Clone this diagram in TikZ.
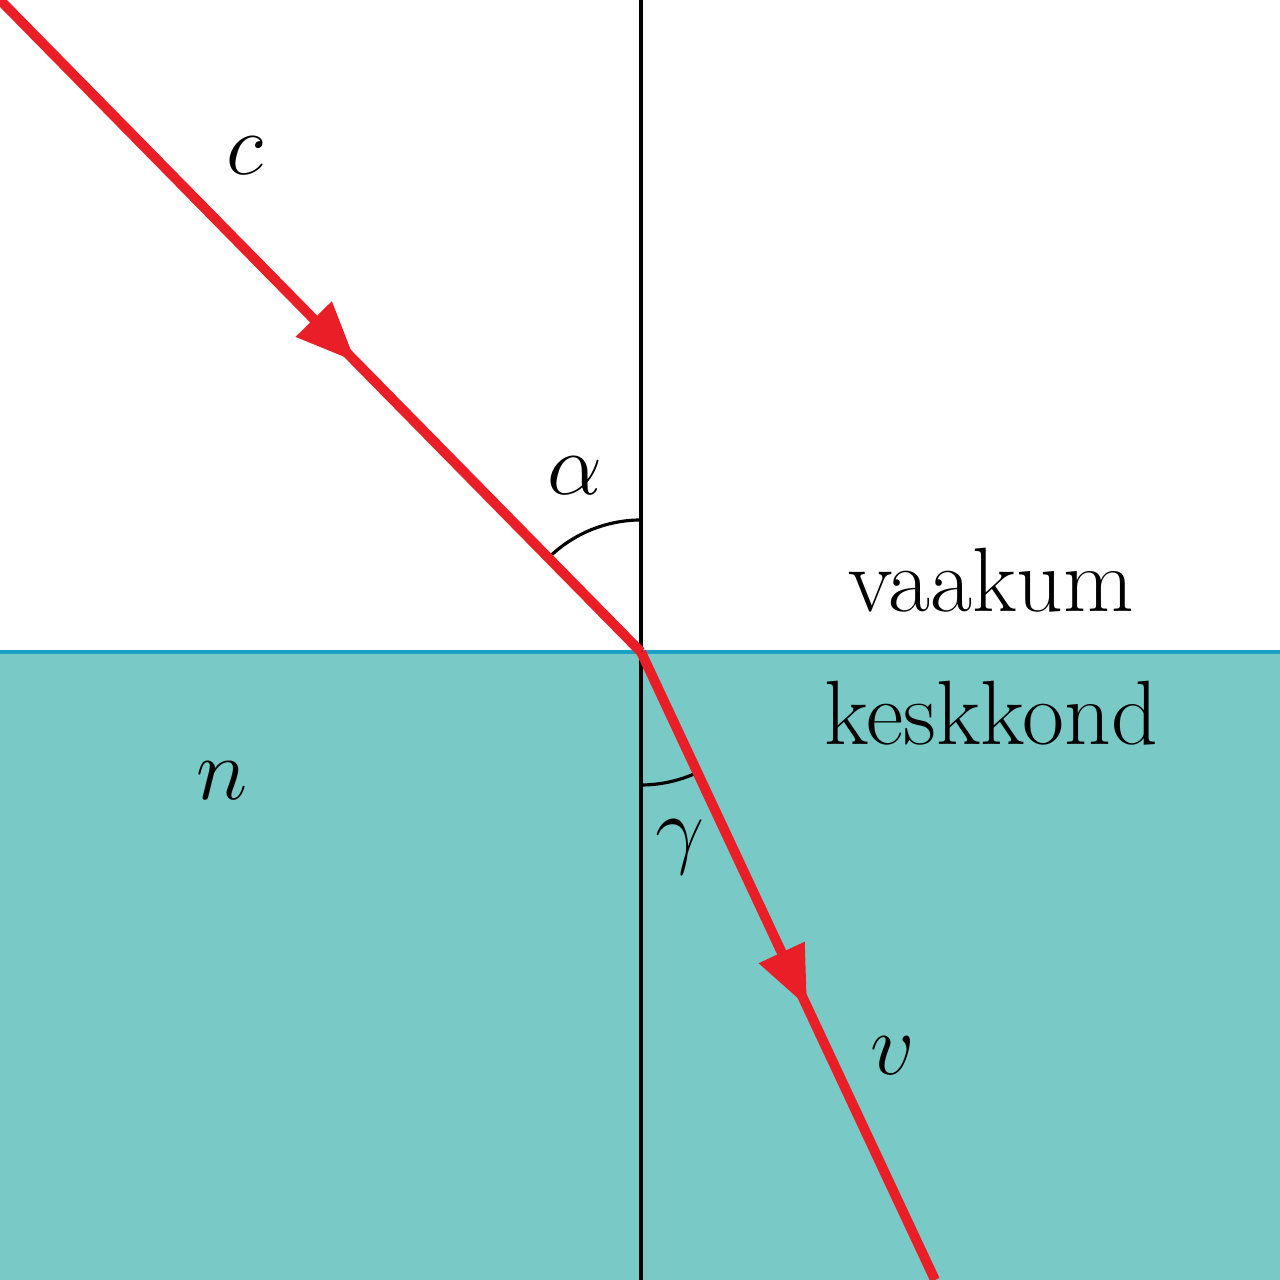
\documentclass[tikz,border=0pt]{standalone}
\usetikzlibrary{arrows.meta,decorations.markings}
\definecolor{medium}{RGB}{121,202,198}
\definecolor{surface}{RGB}{27,161,196}
\definecolor{ray}{RGB}{234,30,38}
\begin{document}
\begin{tikzpicture}[
    font=\fontsize{26}{31}\selectfont,
    lightray/.style={ray,line width=2.8pt,
      postaction={decorate,decoration={markings,
        mark=at position #1 with {\arrow{Triangle[length=6mm,width=4.8mm]}}}}},
    anglearc/.style={line width=0.9pt}
  ]
  \useasboundingbox (0,0) rectangle (12.8,12.8);
  \clip (0,0) rectangle (12.8,12.8);

  \fill[medium] (0,0) rectangle (12.8,6.28);
  \draw[surface,line width=0.9pt] (0,6.28) -- (12.8,6.28);

  \coordinate (O) at (6.41,6.28);
  \coordinate (top) at (6.41,12.8);
  \coordinate (bottom) at (6.41,0);
  \coordinate (start) at (0,12.8);
  \coordinate (end) at (9.35,0);

  \draw[line width=0.9pt] (bottom) -- (top);

  \draw[anglearc] (O) ++(90:1.32) arc[start angle=90,end angle=134.5,radius=1.32];
  \draw[anglearc] (O) ++(-90:1.33) arc[start angle=-90,end angle=-64.9,radius=1.33];

  \draw[lightray=0.555] (start) -- (O);
  \draw[lightray=0.565] (O) -- (end);

  \node[anchor=base] (c) at (2.45,11.05) {$c$};
  \node[anchor=base] (alpha) at (5.75,7.85) {$\alpha$};
  \node[anchor=base] (vac) at (9.91,6.68) {vaakum};
  \node[anchor=base] (med) at (9.91,5.35) {keskkond};
  \node[anchor=base] (n) at (2.22,4.80) {$n$};
  \node[anchor=base] (gamma) at (6.80,4.22) {$\gamma$};
  \node[anchor=base] (v) at (8.93,2.05) {$v$};
\end{tikzpicture}
\end{document}
